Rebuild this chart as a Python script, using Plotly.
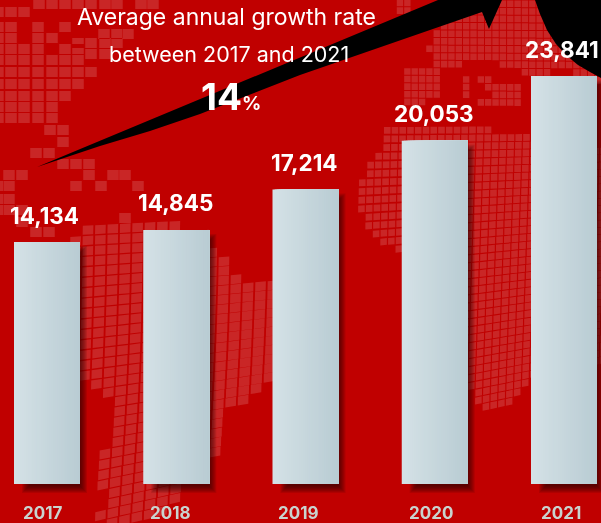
import numpy as np
import plotly.graph_objects as go

# ---- chart data ----
years = ["2017", "2018", "2019", "2020", "2021"]
values = [14134, 14845, 17214, 20053, 23841]
value_labels = ["14,134", "14,845", "17,214", "20,053", "23,841"]
title_lines = ["Average annual growth rate", "between 2017 and 2021"]
rate_number = "14"
rate_unit = "%"

# ---- layout constants (pixels in the 601x523 picture) ----
W, H = 601, 523
BASE_PX = 484
K = 408 / 23841          # px per unit
STEP = 129.25            # px per category
FIRST = 47               # px of first category centre
BAR_W = 66
RED = "#c00000"
FONT = "Inter"


def px(x):
    return x / W


def py(y):
    return 1 - y / H


def rect_path(c):
    return "M" + "L".join(f"{px(a):.4f},{py(b):.4f}" for a, b in c) + "Z"


def inside(x, y, poly):
    hit = False
    n = len(poly)
    for i in range(n):
        x1, y1 = poly[i]
        x2, y2 = poly[(i + 1) % n]
        if (y1 > y) != (y2 > y) and x < (x2 - x1) * (y - y1) / (y2 - y1) + x1:
            hit = not hit
    return hit


# ---- decorative world-map mosaic ----
tiles = []


def square(x, y, w, h):
    tiles.append(rect_path([(x - w / 2, y - h / 2), (x + w / 2, y - h / 2),
                            (x + w / 2, y + h / 2), (x - w / 2, y + h / 2)]))


na_rows = {
    4: [39, 52, 65, 78, 91, 105, 117, 141, 153],
    12: [-2, 11, 24],
    27: [-2, 11, 38, 65],
    34: [104, 117, 128],
    38: [-2, 11, 38, 52],
    43: [78, 91, 105, 117],
    49: [-2, 11, 24, 38, 65, 78],
    54: [91, 105],
    60: [-2, 11, 24, 38, 52, 65, 78],
    72: [-2, 11, 24, 38, 52, 65, 78, 91],
    84: [-2, 11, 24, 38, 52, 65, 78],
    96: [-2, 11, 24, 38, 52, 65],
    107: [-2, 11, 24, 38, 52],
    118: [-2, 11, 24, 38, 52],
    130: [50, 63],
    142: [63],
    153: [36, 49],
    164: [63, 76, 89],
    175: [9, 22, 89, 113, 125],
    186: [-2, 9, 76, 101, 138],
    199: [-2, 9],
    210: [-2, 9, 22],
    218: [125],
    222: [22],
    232: [36, 49],
}
for ry, xs in na_rows.items():
    for x in xs:
        square(x, ry, 11.5, 10)

# South America
sa_poly = [(80, 225), (176, 221), (215, 250), (228, 262), (243, 279), (280, 284), (280, 372),
           (257, 392), (253, 402), (227, 405), (225, 445), (214, 458), (181, 491), (171, 504),
           (158, 523), (88, 523), (90, 514), (102, 508), (103, 446), (117, 442), (117, 395),
           (104, 393), (92, 385), (70, 375), (70, 240)]
for j in range(-1, 30):
    for i in range(-3, 22):
        s = 0.05 + 0.0006 * max(j, 0) * 10.6
        dy = max(j, 0) * 10.6
        x = 88 + i * 12.4 - 0.006 * dy - 0.00012 * dy * dy
        y = 230 + j * 10.4 - i * 12.4 * s
        if inside(x, y, sa_poly):
            w, h = 5.3, 4.5
            c = [(x - w + h * 0.02, y - h + w * s), (x + w + h * 0.02, y - h - w * s),
                 (x + w - h * 0.02, y + h - w * s), (x - w - h * 0.02, y + h + w * s)]
            tiles.append(rect_path(c))

# Africa
af_poly = [(388, 126), (487, 126), (494, 133), (522, 132), (540, 150), (610, 150), (610, 365),
           (528, 380), (515, 397), (508, 406), (482, 412), (476, 402), (468, 389), (420, 300),
           (395, 250), (378, 240), (368, 230), (361, 213), (361, 183), (372, 156), (382, 148)]
for j in range(-2, 40):
    for i in range(-4, 36):
        dy = max(j, 0) * 8.05
        s = 0.005 + 0.00075 * dy
        x = 364 + i * 7.75 - 0.035 * dy
        y = 130 + j * 8.05 - (i - 14) * 7.75 * s
        if inside(x, y, af_poly):
            w, h = 3.3, 3.4
            c = [(x - w, y - h + w * s), (x + w, y - h - w * s),
                 (x + w, y + h - w * s), (x - w, y + h + w * s)]
            tiles.append(rect_path(c))

# Europe / Asia and the smaller patches
eu_polys = [
    [(441, 25), (500, -2), (545, -2), (610, 85), (578, 74), (560, 66), (548, 72), (531, 79),
     (521, 70), (480, 60), (440, 70), (427, 48)],
    [(401, 66), (442, 66), (442, 88), (436, 102), (402, 102)],
    [(400, -2), (412, -2), (412, 12), (400, 12)],
    [(476, 72), (490, 72), (490, 82), (476, 82)],
    [(484, 82), (496, 82), (496, 92), (484, 92)],
    [(474, 96), (490, 96), (490, 108), (474, 108)],
    [(493, 80), (520, 80), (520, 108), (493, 108)],
    [(461, 78), (469, 78), (469, 98), (461, 98)],
]
for j in range(-2, 18):
    for i in range(-2, 32):
        x = 400 + i * 7.35
        y = 3 + j * 7.6 + i * 0.05
        if any(inside(x, y, p) for p in eu_polys):
            square(x, y, 6.4, 6.6)

shapes = [dict(type="path", xref="paper", yref="paper", layer="below", path=" ".join(tiles),
               fillcolor="rgba(255,255,255,0.15)", line=dict(width=0))]

# growth arrow and the black disc at top right
arrow = [(37, 167), (438, 0), (503, -2), (502, 0), (489, 29), (482, 12), (300, 75), (200, 114), (150, 131), (100, 146)]
shapes.append(dict(type="path", xref="paper", yref="paper", layer="below",
                   path=rect_path(arrow), fillcolor="#000", line=dict(width=0)))
disc_edge = [(535, 0), (540, 14), (547, 30), (556, 44), (566, 55), (578, 65), (590, 72), (601, 78), (601, 0)]
shapes.append(dict(type="path", xref="paper", yref="paper", layer="below",
                   path=rect_path(disc_edge), fillcolor="#000", line=dict(width=0)))

fig = go.Figure()

# ---- soft shadows: stacked translucent bars derived from the values ----
layers = 8
for d in range(layers):
    left = 8 + d
    right = 7 - d
    tops = [v - (4 + d) / K for v in values]
    base = -(9 - d) / K
    fig.add_trace(go.Bar(
        x=years, y=[t - base for t in tops], base=base,
        width=(BAR_W - left + right) / STEP,
        offset=(-BAR_W / 2 + left) / STEP,
        marker=dict(color="#200000", line=dict(width=0)), opacity=0.11,
        hoverinfo="skip", showlegend=False, cliponaxis=False))

# ---- bars: horizontal gradient built from overlapping slices ----
left_col = np.array([0xd4, 0xe1, 0xe6])
right_col = np.array([0xb9, 0xcc, 0xd3])
slices = 32
for n in range(slices):
    t = n / (slices - 1)
    c = (left_col + (right_col - left_col) * t).round().astype(int)
    start = BAR_W * n / slices
    fig.add_trace(go.Bar(
        x=years, y=values, width=(BAR_W - start) / STEP,
        offset=(-BAR_W / 2 + start) / STEP,
        marker=dict(color=f"rgb({c[0]},{c[1]},{c[2]})", line=dict(width=0)),
        hoverinfo="skip", showlegend=False))

# ---- text ----
annotations = []
value_dx = [-2.5, -1, -1, -1, -2]
year_dx = [-4, -6, -7, -4, -3]
for i, (yr, v, lab, dx, ydx) in enumerate(zip(years, values, value_labels, value_dx, year_dx)):
    annotations.append(dict(x=i, y=v, xref="x", yref="y", text=f"<b>{lab}</b>", showarrow=False,
                            xanchor="center", yanchor="middle", yshift=27, xshift=dx,
                            font=dict(family=FONT, size=22.5, color="#fff")))
    annotations.append(dict(x=i, y=0, xref="x", yref="y", text=f"<b>{yr}</b>", showarrow=False,
                            xanchor="center", yanchor="middle", yshift=-29, xshift=ydx, height=18,
                            font=dict(family=FONT, size=17, color="#c9d3cf")))
annotations.append(dict(x=px(226), y=py(17), xref="paper", yref="paper", text=title_lines[0], showarrow=False,
                        xanchor="center", yanchor="middle", font=dict(family=FONT, size=23, color="#fff")))
annotations.append(dict(x=px(229), y=py(54), xref="paper", yref="paper", text=title_lines[1], showarrow=False,
                        xanchor="center", yanchor="middle", font=dict(family=FONT, size=21.5, color="#fff")))
annotations.append(dict(x=px(231), y=py(96), xref="paper", yref="paper",
                        text=f"<b><span style='font-size:37px'>{rate_number}</span>"
                             f"<span style='font-size:19px'>{rate_unit}</span></b>",
                        showarrow=False, xanchor="center", yanchor="middle",
                        font=dict(family=FONT, size=19, color="#fff")))

y_min, y_max = -(H - BASE_PX) / K, BASE_PX / K
hidden = dict(showgrid=False, zeroline=False, showticklabels=False, showline=False, ticks="", fixedrange=True)
fig.update_layout(
    width=W, height=H, autosize=False, barmode="overlay", showlegend=False,
    margin=dict(l=0, r=0, t=0, b=0), paper_bgcolor=RED, plot_bgcolor=RED,
    xaxis=dict(type="category", categoryorder="array", categoryarray=years,
               range=[-FIRST / STEP, (W - FIRST) / STEP], **hidden),
    yaxis=dict(range=[y_min, y_max], **hidden),
    shapes=shapes, annotations=annotations,
)
fig.write_html("out.html", config=dict(displayModeBar=False),
               post_script="document.body.style.margin='0';document.body.style.background='#c00000';"
                           "document.documentElement.style.overflow='hidden';window.dispatchEvent(new Event('resize'));")
